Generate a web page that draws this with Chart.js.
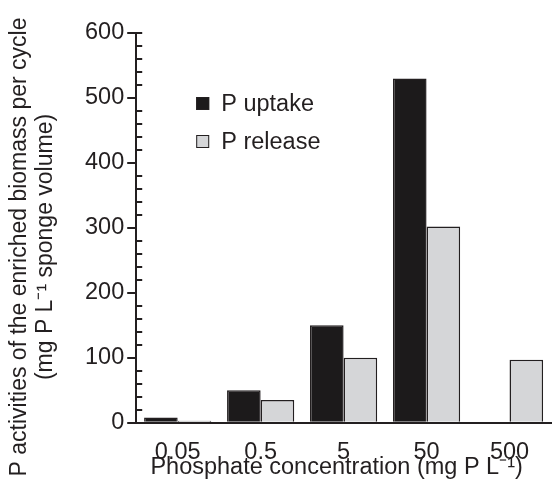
<!DOCTYPE html>
<html>
<head>
<meta charset="utf-8">
<script src="https://cdn.jsdelivr.net/npm/chart.js@4"></script>
<style>
  html, body { margin: 0; padding: 0; background: #fff; }
  #wrap { width: 552px; height: 490px; }
</style>
</head>
<body>
<div id="wrap"><canvas id="c" width="552" height="490"></canvas></div>
<script>
// Valeurs
const categories = ['0.05', '0.5', '5', '50', '500'];
const uptake  = [8, 50, 150, 530, null];
const release = [3, 35, 100, 302, 97];
const yTicks  = [0, 100, 200, 300, 400, 500, 600];
const xTitle  = 'Phosphate concentration (mg P L⁻¹)';
const yTitle  = ['P activities of the enriched biomass per cycle', '(mg P L⁻¹ sponge volume)'];

const INK = '#231f20';
const FONT = '"Liberation Sans", Arial, sans-serif';
const FS = 23.5;

// Petits traits intérieurs tous les 20, plus le trait du sommet
const minorTicks = { id: 'minorTicks', afterDraw(chart) {
  const { ctx, scales: { y } } = chart;
  ctx.save();
  ctx.strokeStyle = INK;
  ctx.lineWidth = 2;
  for (let v = 20; v <= 600; v += 20) {
    if (v % 100 === 0 && v !== 600) continue;
    const py = Math.round(y.getPixelForValue(v));
    ctx.beginPath();
    ctx.moveTo(y.right, py);
    ctx.lineTo(y.right + 6, py);
    ctx.stroke();
  }
  ctx.restore();
}};

// Titres des axes dessinés à la main : placement plus sûr qu'avec les paddings négatifs
const axisTitles = { id: 'axisTitles', afterDraw(chart) {
  const { ctx, chartArea } = chart;
  ctx.save();
  ctx.fillStyle = INK;
  ctx.textAlign = 'center';
  ctx.textBaseline = 'middle';
  ctx.font = FS + 'px ' + FONT;
  ctx.fillText(xTitle, (chartArea.left + chartArea.right) / 2 - 7, chart.height - 22);
  ctx.font = '23px ' + FONT;
  ctx.translate(0, chart.height / 2 + 2);
  ctx.rotate(-Math.PI / 2);
  yTitle.forEach((line, i) => ctx.fillText(line, 0, 20 + i * 26));
  ctx.restore();
}};

// Légende dessinée dans la zone du graphe
const innerLegend = { id: 'innerLegend', afterDraw(chart) {
  const { ctx, chartArea } = chart;
  ctx.save();
  ctx.font = FS + 'px ' + FONT;
  ctx.textBaseline = 'middle';
  chart.data.datasets.forEach((ds, i) => {
    const x = chartArea.left + 60, yc = chartArea.top + 71 + i * 38;
    ctx.fillStyle = ds.backgroundColor;
    ctx.fillRect(x, yc - 7, 13, 13);
    ctx.strokeStyle = INK;
    ctx.lineWidth = 1;
    ctx.strokeRect(x + 0.5, yc - 6.5, 12, 12);
    ctx.fillStyle = INK;
    ctx.fillText(ds.label, x + 25, yc + 1);
  });
  ctx.restore();
}};

new Chart(document.getElementById('c').getContext('2d'), {
  type: 'bar',
  data: {
    labels: categories,
    datasets: [
      { label: 'P uptake', data: uptake, backgroundColor: '#1c1a1b',
        borderColor: INK, borderWidth: 1.5, categoryPercentage: 0.81, barPercentage: 1 },
      { label: 'P release', data: release, backgroundColor: '#d5d6d8',
        borderColor: INK, borderWidth: 1.5, categoryPercentage: 0.81, barPercentage: 1 }
    ]
  },
  options: {
    responsive: false,
    animation: false,
    layout: { padding: { top: 33, right: 1, left: 82, bottom: 15 } },
    plugins: { legend: { display: false }, tooltip: { enabled: false } },
    scales: {
      x: {
        grid: { display: false },
        border: { display: true, color: INK, width: 2 },
        ticks: { color: INK, font: { family: FONT, size: FS }, padding: 8 }
      },
      y: {
        min: 0, max: 600,
        afterBuildTicks: s => { s.ticks = yTicks.map(v => ({ value: v })); },
        grid: { drawOnChartArea: false, color: INK, lineWidth: 2, tickLength: 9 },
        border: { display: true, color: INK, width: 2 },
        ticks: { color: INK, font: { family: FONT, size: FS }, padding: 3 }
      }
    }
  },
  plugins: [minorTicks, axisTitles, innerLegend]
});
</script>
</body>
</html>
